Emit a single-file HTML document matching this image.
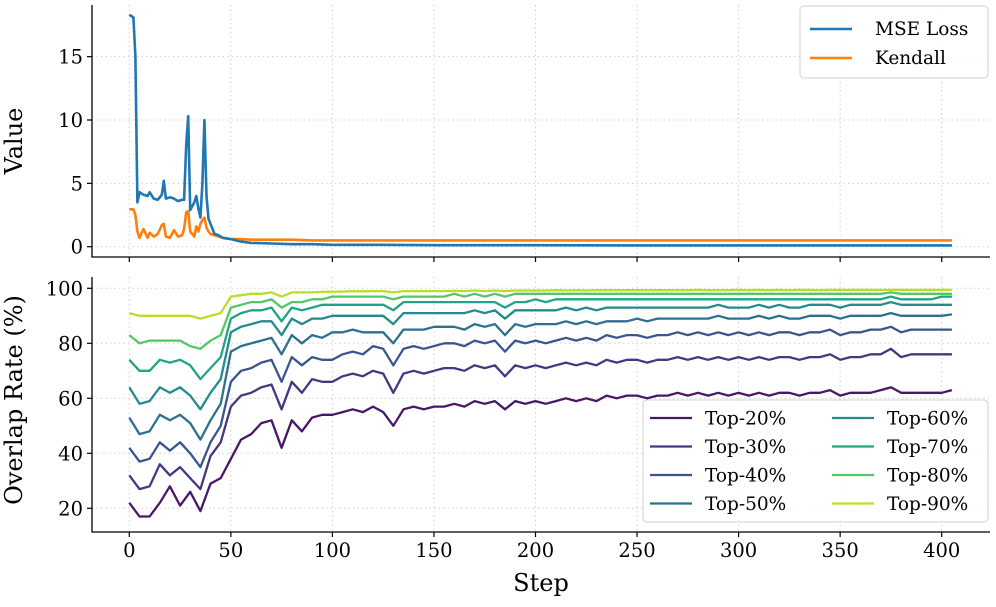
<!DOCTYPE html>
<html><head><meta charset="utf-8"><style>
html,body{margin:0;padding:0;background:#fff;}
svg text{font-family:"DejaVu Serif","Liberation Serif",serif;fill:#000;}
</style></head><body>
<svg id="chart" width="996" height="602" viewBox="0 0 996 602" xmlns="http://www.w3.org/2000/svg"></svg>
<script>
const topSteps=[0,2,3,4,5,7,9,10,12,14,16,17,18,20,22,24,26,27,28,29,30,32,33,34,35,36,37,38,39,40,42,44,46,50,55,60,70,80,90,100,120,150,200,250,300,350,405];
const mseLoss=[18.3,18.1,15,3.5,4.3,4.1,4.0,4.3,3.8,3.7,4.1,5.2,3.8,3.9,3.8,3.6,3.7,3.7,8,10.3,2.9,3.5,4.0,3.0,2.3,5,10,4.0,2.2,1.8,1.0,0.9,0.7,0.6,0.4,0.3,0.25,0.2,0.2,0.15,0.15,0.12,0.12,0.1,0.1,0.1,0.1];
const kendall=[2.95,2.95,2.5,1.2,0.7,1.4,0.7,1.1,0.8,1.0,1.7,1.8,0.8,0.7,1.3,0.8,0.9,1.4,2.7,2.8,1.2,0.8,1.6,1.2,1.8,2.1,2.3,1.5,1.2,1.0,0.9,0.8,0.7,0.6,0.6,0.55,0.55,0.55,0.5,0.5,0.5,0.5,0.5,0.5,0.5,0.5,0.5];
const topTicks=[0,5,10,15];
const botTicks=[20,40,60,80,100];
const xTicks=[0,50,100,150,200,250,300,350,400];
const seriesNames=["Top-20%","Top-30%","Top-40%","Top-50%","Top-60%","Top-70%","Top-80%","Top-90%"];
const seriesColors=["#481769","#453781","#39568c","#2d708e","#238a8d","#20a386","#55c667","#b8de29"];
const t20=[22,17,17,22,28,21,26,19,29,31,38,45,47,51,52,42,52,48,53,54,54,55,56,55,57,55,50,56,57,56,57,57,58,57,59,58,59,56,59,58,59,58,59,60,59,60,59,61,60,61,61,60,61,61,62,61,62,61,62,61,62,61,62,61,62,62,61,62,62,63,61,62,62,62,63,64,62,62,62,62,62,63];
const t30=[32,27,28,36,32,35,31,27,39,44,57,61,62,64,65,56,66,62,67,66,66,68,69,68,70,69,62,69,70,69,70,71,71,70,72,71,72,68,72,71,72,71,72,73,72,73,72,74,73,74,74,73,74,74,75,74,75,74,75,74,75,74,75,74,75,75,74,75,75,76,74,75,75,76,76,78,75,76,76,76,76,76];
const t40=[42,37,38,44,41,44,40,35,44,50,66,70,71,73,74,66,75,72,75,74,74,76,77,76,79,78,72,78,79,78,79,80,80,79,81,80,81,77,81,80,81,80,81,82,81,82,81,83,82,83,83,82,83,83,84,83,84,83,84,83,84,83,84,83,84,84,83,84,84,85,83,84,84,85,85,86,84,85,85,85,85,85];
const t50=[53,47,48,54,52,54,51,45,52,58,77,79,80,81,82,76,83,80,83,82,84,84,85,84,84,84,80,85,85,85,86,86,86,85,87,86,87,83,87,86,87,87,87,88,87,88,87,88,88,88,89,88,89,89,89,89,89,89,90,89,89,89,90,89,90,89,89,90,90,90,89,90,90,90,90,91,90,90,90,90,90,90.5];
const t60=[64,58,59,64,62,64,61,56,62,67,84,86,87,88,88,83,89,87,89,89,90,90,90,90,90,90,87,91,91,91,91,91,91,91,92,91,92,89,92,92,92,92,92,93,92,93,92,93,93,93,93,93,93,93,93,93,93,93,94,93,93,93,94,93,94,93,93,94,94,94,93,94,94,94,94,95,94,94,94,94,94,94];
const t70=[74,70,70,74,73,74,72,67,71,75,89,91,92,92,93,88,93,92,93,94,94,94,94,94,94,94,92,95,95,95,95,95,95,95,95,95,95,93,95,95,96,95,96,96,96,96,96,96,96,96,96,96,96,96,96,96,96,96,96,96,96,96,96,96,96,96,96,96,96,96,96,96,96,96,96,97,96,96,96,96,97,97];
const t80=[83,80,81,81,81,81,79,78,81,83,93,94,95,95,96,93,95,95,96,96,97,97,97,97,97,97,96,97,97,97,97,97,98,97,98,97,98,97,98,98,98,98,98,98,98,98,98,98,98,98,98,98,98,98,98,98,98,98,98,98,98,98,98,98,98,98,98,98,98,98,98,98,98,98,98,98.5,98,98,98,98,98,98];
const t90=[91,90,90,90,90,90,90,89,90,91,97,97.5,98,98,98.5,97,98.5,98.5,98.5,98.7,98.8,98.8,99,98.9,99,99,98.5,99,99,99,99,99,99.1,99,99.2,99,99.2,99,99.2,99.2,99.2,99.2,99.3,99.2,99.3,99.2,99.3,99.3,99.3,99.3,99.3,99.3,99.3,99.3,99.3,99.3,99.4,99.3,99.3,99.3,99.4,99.3,99.4,99.3,99.4,99.3,99.4,99.4,99.3,99.4,99.4,99.4,99.4,99.4,99.4,99.4,99.4,99.4,99.4,99.4,99.4,99.4];
const botSeries=[t20,t30,t40,t50,t60,t70,t80,t90];

const NS="http://www.w3.org/2000/svg";
const svg=document.getElementById('chart');
function mk(tag,attrs,parent){const e=document.createElementNS(NS,tag);for(const k in attrs)e.setAttribute(k,attrs[k]);(parent||svg).appendChild(e);return e;}
const X0=92,X1=990;
const sx=s=>129.3+s*2.031;
const syTop=v=>246.7-v*12.67;
const syBot=v=>288.3+(100-v)*2.75;
const panels=[{y0:5,y1:257,sy:syTop,ticks:topTicks,name:'top'},{y0:277,y1:532,sy:syBot,ticks:botTicks,name:'bottom'}];
panels.forEach(p=>{
  const g=mk('g',{});
  
  
  xTicks.forEach(t=>{
    const l=mk('line',{x1:sx(t),x2:sx(t),y1:p.y0,y2:p.y1,stroke:'#d0d0d0','stroke-width':1,'stroke-dasharray':'1.5,3'},g);
    
    
    const tk=mk('line',{x1:sx(t),x2:sx(t),y1:p.y1,y2:p.y1+5,stroke:'#000','stroke-width':1.2},g);
    
    
  });
  p.ticks.forEach(t=>{
    const y=p.sy(t);
    const l=mk('line',{x1:X0,x2:X1,y1:y,y2:y,stroke:'#d0d0d0','stroke-width':1,'stroke-dasharray':'1.5,3'},g);
    
    
    const tk=mk('line',{x1:X0-5,x2:X0,y1:y,y2:y,stroke:'#000','stroke-width':1.2},g);
    
    
    const tx=mk('text',{x:X0-9,y:y+7,'text-anchor':'end','font-size':19.5},g);
    tx.textContent=t;
    
    
  });
  const sp=mk('path',{d:`M${X0},${p.y0} L${X0},${p.y1} L${X1},${p.y1}`,fill:'none',stroke:'#000','stroke-width':1.3},g);
  
  
});
function line(xs,ys,sy,color,w,name){
  const d=ys.map((v,i)=>(i?'L':'M')+sx(xs[i]).toFixed(1)+','+sy(v).toFixed(1)).join(' ');
  const p=mk('path',{d:d,fill:'none',stroke:color,'stroke-width':w,'stroke-linejoin':'round'});
  
  
}
line(topSteps,kendall,syTop,'#ff7f0e',2.6,'kendall-line');
line(topSteps,mseLoss,syTop,'#1f77b4',2.6,'mse-loss-line');
const botSteps=t20.map((_,i)=>i*5);
botSeries.forEach((s,i)=>line(botSteps,s,syBot,seriesColors[i],2.3,'line-'+seriesNames[i].toLowerCase().replace('%','pct')));
xTicks.forEach(t=>{
  const tx=mk('text',{x:sx(t),y:557,'text-anchor':'middle','font-size':19.5});
  tx.textContent=t;
  
  
});
let t=mk('text',{x:541,y:591,'text-anchor':'middle','font-size':24});t.textContent='Step';


t=mk('text',{x:0,y:0,'text-anchor':'middle','font-size':24,transform:'translate(22,141) rotate(-90)'});t.textContent='Value';


t=mk('text',{x:0,y:0,'text-anchor':'middle','font-size':24,transform:'translate(22,400) rotate(-90)'});t.textContent='Overlap Rate (%)';


// top legend
const lg1=mk('g',{});


mk('rect',{x:800,y:6,width:188,height:72,rx:4,fill:'#fff','fill-opacity':0.85,stroke:'#d0d0d0','stroke-width':1},lg1);
[['MSE Loss','#1f77b4'],['Kendall','#ff7f0e']].forEach((e,i)=>{
  const y=29+i*29;
  const l=mk('line',{x1:810,x2:852,y1:y,y2:y,stroke:e[1],'stroke-width':2.6},lg1);
  
  
  const tx=mk('text',{x:875,y:y+6,'font-size':18.5},lg1);tx.textContent=e[0];
  
  
});
// bottom legend
const lg2=mk('g',{});


mk('rect',{x:643,y:400,width:345,height:122,rx:4,fill:'#fff','fill-opacity':0.85,stroke:'#d0d0d0','stroke-width':1},lg2);
seriesNames.forEach((n,i)=>{
  const col=Math.floor(i/4),row=i%4;
  const x=col?832:650,y=418+row*28.5;
  const l=mk('line',{x1:x,x2:x+42,y1:y,y2:y,stroke:seriesColors[i],'stroke-width':2.3},lg2);
  
  
  const tx=mk('text',{x:x+55,y:y+6.5,'font-size':18.5},lg2);tx.textContent=n;
  
  
});
</script>
</body></html>
